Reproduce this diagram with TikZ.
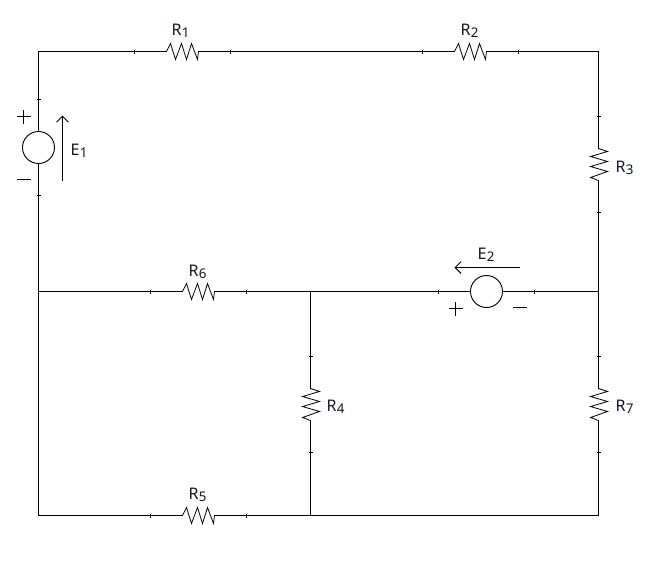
\documentclass[tikz,border=0pt]{standalone}
\usepackage{fontspec}
\setmainfont{Noto Sans}
\usetikzlibrary{arrows.meta}
\newcommand{\lblsub}[2]{{\fontsize{12pt}{13pt}\selectfont\color{lblcol}#1\kern0.4pt\raisebox{-1.5pt}{\fontsize{10pt}{11pt}\selectfont #2}}}
\definecolor{lblcol}{HTML}{101828}
\tikzset{
  wire/.style={line width=0.75pt,line cap=rect},
  thin wire/.style={line width=0.6pt,line join=miter},
  lbl/.style={anchor=base west,inner sep=0pt,outer sep=0pt},
  source/.style={circle,draw,line width=0.7pt,minimum size=24pt,inner sep=0pt,outer sep=0pt},
  tickh/.style={fill=black,inner sep=0pt,minimum width=0.75pt,minimum height=3pt},
  tickv/.style={fill=black,inner sep=0pt,minimum width=3pt,minimum height=0.75pt},
  sign/.style={line width=0.75pt},
  volt/.style={line width=0.75pt,-{Straight Barb[length=4.5pt,width=9pt,line width=0.7pt]}},
  resh/.pic={
    \coordinate (-a) at (0,0);
    \coordinate (-b) at (32,0);
    \draw[thin wire] (0,0) -- (4,-8) -- (9,8) -- (15,-8) -- (20,8) -- (25,-8) -- (31,8) -- (32,0);
  },
  resv/.pic={
    \coordinate (-a) at (0,0);
    \coordinate (-b) at (0,32);
    \draw[thin wire] (0,0) -- (9,3) -- (-8,8) -- (9,13) -- (-8,18) -- (9,23) -- (-8,29) -- (0,32);
  }
}
\begin{document}
\begin{tikzpicture}[x=0.75pt,y=-0.75pt]
\useasboundingbox (-0.5,-0.5) rectangle (650.5,560.5);
\fill[white] (-0.5,-0.5) rectangle (650.5,560.5);
% junctions / corners
\coordinate (TL) at (38,51);
\coordinate (TR) at (598,51);
\coordinate (ML) at (38,291);
\coordinate (MM) at (310,291);
\coordinate (MR) at (598,291);
\coordinate (BL) at (38,515);
\coordinate (BM) at (310,515);
\coordinate (BR) at (598,515);
% resistors
\pic (R1) at (166,51) {resh};
\pic (R2) at (454,51) {resh};
\pic (R3) at (598,148) {resv};
\pic (R4) at (310,388) {resv};
\pic (R5) at (182,515) {resh};
\pic (R6) at (182,291) {resh};
\pic (R7) at (598,388) {resv};
% sources
\node[source] (E1) at (38,147) {};
\node[source] (E2) at (486,291) {};
% wires
\draw[wire] (E1.north) -- (TL) -- (R1-a);
\draw[wire] (R1-b) -- (R2-a);
\draw[wire] (R2-b) -- (TR) -- (R3-a);
\draw[wire] (R3-b) -- (MR);
\draw[wire] (E1.south) -- (ML) -- (R6-a);
\draw[wire] (R6-b) -- (MM) -- (E2.west);
\draw[wire] (E2.east) -- (MR);
\draw[wire] (MM) -- (R4-a);
\draw[wire] (R4-b) -- (BM);
\draw[wire] (ML) -- (BL) -- (R5-a);
\draw[wire] (R5-b) -- (BM) -- (BR) -- (R7-b);
\draw[wire] (R7-a) -- (MR);
% ticks
\foreach \n/\x/\y in {t1/134/51,t2/230/51,t3/422/51,t4/518/51,t5/150/291,t6/246/291,t7/438/291,t8/534/291,t9/150/515,t10/246/515}
  \node[tickh] (\n) at (\x,\y) {};
\foreach \n/\x/\y in {t11/38/99,t12/38/195,t13/598/116,t14/598/212,t15/310/356,t16/310/452,t17/598/356,t18/598/452}
  \node[tickv] (\n) at (\x,\y) {};
% signs
\draw[sign] (16,116) -- (30,116) (23,109) -- (23,123);
\draw[sign] (16,179) -- (30,179);
\draw[sign] (448,308) -- (462,308) (455,301) -- (455,315);
\draw[sign] (512,307) -- (526,307);
% voltage arrows
\coordinate (A1s) at (62,180);
\coordinate (A1e) at (62,115);
\coordinate (A2s) at (519,267);
\coordinate (A2e) at (454,267);
\draw[volt] (A1s) -- (A1e);
\draw[volt] (A2s) -- (A2e);
% labels
\node[lbl] (LR1) at (171,35) {\lblsub{R}{1}};
\node[lbl] (LR2) at (460,35) {\lblsub{R}{2}};
\node[lbl] (LR3) at (615,172) {\lblsub{R}{3}};
\node[lbl] (LR4) at (326,411) {\lblsub{R}{4}};
\node[lbl] (LR5) at (188,499) {\lblsub{R}{5}};
\node[lbl] (LR6) at (188,276) {\lblsub{R}{6}};
\node[lbl] (LR7) at (615,411) {\lblsub{R}{7}};
\node[lbl] (LE1) at (70,155) {\lblsub{E}{1}};
\node[lbl] (LE2) at (477,259) {\lblsub{E}{2}};
\end{tikzpicture}
\end{document}
